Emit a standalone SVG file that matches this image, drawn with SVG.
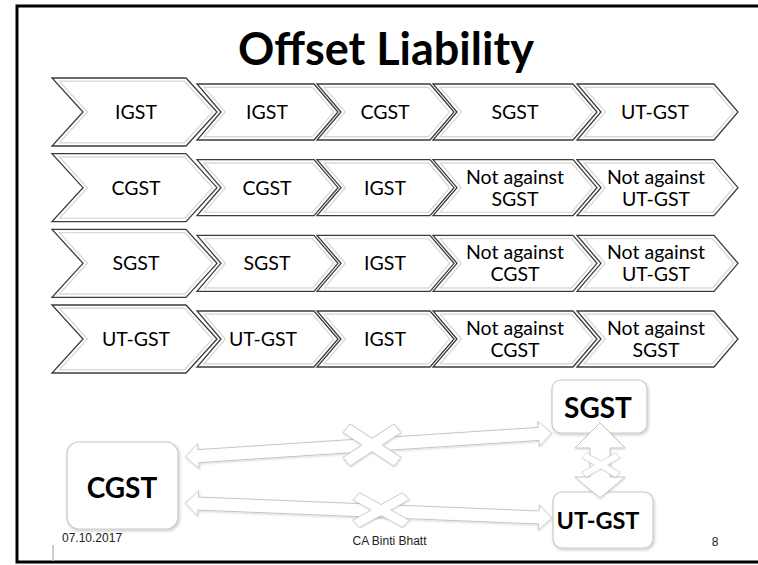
<svg xmlns="http://www.w3.org/2000/svg" xmlns:xlink="http://www.w3.org/1999/xlink" width="758" height="565" viewBox="0 0 758 565">
<style>
.frame{stroke:#000;stroke-width:3;fill:none}
.fw{fill:#fff;stroke:none}
.in1{fill:none;stroke:#dadada;stroke-width:8}
.in2{fill:none;stroke:#fff;stroke-width:5.2}
.ol{fill:none;stroke:#3c3c3c;stroke-width:1.3;stroke-linejoin:miter}
.ct{font-family:Lato,"Noto Sans",sans-serif;font-size:19.5px;fill:#000;text-anchor:middle}
.title{font-family:Lato,"Noto Sans",sans-serif;font-weight:bold;font-size:45px;fill:#000;text-anchor:middle}
.box{fill:#fff;stroke:#c9c9c9;stroke-width:1.2;filter:url(#sh)}
.bt{font-family:Lato,"Noto Sans",sans-serif;font-weight:bold;fill:#000;text-anchor:middle}
.arr{fill:#fff;stroke:#c4c4c4;stroke-width:1;stroke-linejoin:miter;filter:url(#sh2)}
.ft{font-family:"Liberation Sans",Arial,sans-serif;font-size:12px;fill:#222}
</style>
<defs>
<filter id="sh" x="-20%" y="-20%" width="140%" height="140%">
<feDropShadow dx="1" dy="1.5" stdDeviation="1.5" flood-color="#000" flood-opacity="0.22"/>
</filter>
<filter id="sh2" x="-20%" y="-40%" width="140%" height="180%">
<feDropShadow dx="0.5" dy="1" stdDeviation="1" flood-color="#000" flood-opacity="0.16"/>
</filter>
<path id="p1" d="M52,78 L186,78 L217,112 L186,146 L52,146 L83,112 Z"/>
<path id="p2" d="M197,84 L314,84 L338,112 L314,140 L197,140 L221,112 Z"/>
<path id="p3" d="M317,84 L430,84 L454,112 L430,140 L317,140 L341,112 Z"/>
<path id="p4" d="M433,84 L573,84 L597,112 L573,140 L433,140 L457,112 Z"/>
<path id="p5" d="M577,84 L714,84 L738,112 L714,140 L577,140 L601,112 Z"/>
<clipPath id="cp1"><use xlink:href="#p1"/></clipPath>
<clipPath id="cp2"><use xlink:href="#p2"/></clipPath>
<clipPath id="cp3"><use xlink:href="#p3"/></clipPath>
<clipPath id="cp4"><use xlink:href="#p4"/></clipPath>
<clipPath id="cp5"><use xlink:href="#p5"/></clipPath>
<g id="s1"><use xlink:href="#p1" class="fw"/><use xlink:href="#p1" class="in1" clip-path="url(#cp1)"/><use xlink:href="#p1" class="in2" clip-path="url(#cp1)"/><use xlink:href="#p1" class="ol"/></g>
<g id="s2"><use xlink:href="#p2" class="fw"/><use xlink:href="#p2" class="in1" clip-path="url(#cp2)"/><use xlink:href="#p2" class="in2" clip-path="url(#cp2)"/><use xlink:href="#p2" class="ol"/></g>
<g id="s3"><use xlink:href="#p3" class="fw"/><use xlink:href="#p3" class="in1" clip-path="url(#cp3)"/><use xlink:href="#p3" class="in2" clip-path="url(#cp3)"/><use xlink:href="#p3" class="ol"/></g>
<g id="s4"><use xlink:href="#p4" class="fw"/><use xlink:href="#p4" class="in1" clip-path="url(#cp4)"/><use xlink:href="#p4" class="in2" clip-path="url(#cp4)"/><use xlink:href="#p4" class="ol"/></g>
<g id="s5"><use xlink:href="#p5" class="fw"/><use xlink:href="#p5" class="in1" clip-path="url(#cp5)"/><use xlink:href="#p5" class="in2" clip-path="url(#cp5)"/><use xlink:href="#p5" class="ol"/></g>
<polygon id="harr" points="-183.5,0 -170.5,-12.5 -170.5,-6.5 170.5,-6.5 170.5,-12.5 183.5,0 170.5,12.5 170.5,6.5 -170.5,6.5 -170.5,12.5"/>
<polygon id="xm" points="22.56,-23.47 29.54,-13.71 10.33,0 29.54,13.71 22.56,23.47 0,7.37 -22.56,23.47 -29.54,13.71 -10.33,0 -29.54,-13.71 -22.56,-23.47 0,-7.37"/>
</defs>
<rect width="758" height="565" fill="#fff"/>
<g id="frame">
<path class="frame" d="M758,6 H17 V562 H758"/>
<line x1="53" y1="545" x2="53" y2="561" stroke="#bdbdbd" stroke-width="1.5"/>
</g>
<g id="title"><text class="title" x="386" y="65">Offset Liability</text></g>

<g id="row1">
<g id="r1c1"><use xlink:href="#s1"/><text class="ct" x="136" y="119">IGST</text></g>
<g id="r1c2"><use xlink:href="#s2"/><text class="ct" x="267" y="119">IGST</text></g>
<g id="r1c3"><use xlink:href="#s3"/><text class="ct" x="385" y="119">CGST</text></g>
<g id="r1c4"><use xlink:href="#s4"/><text class="ct" x="515" y="119">SGST</text></g>
<g id="r1c5"><use xlink:href="#s5"/><text class="ct" x="655" y="119">UT-GST</text></g>
</g>
<g id="row2">
<g id="r2c1"><use xlink:href="#s1" y="75.67"/><text class="ct" x="136" y="194.7">CGST</text></g>
<g id="r2c2"><use xlink:href="#s2" y="75.67"/><text class="ct" x="267" y="194.7">CGST</text></g>
<g id="r2c3"><use xlink:href="#s3" y="75.67"/><text class="ct" x="385" y="194.7">IGST</text></g>
<g id="r2c4"><use xlink:href="#s4" y="75.67"/><text class="ct" x="515" y="183.5">Not against</text><text class="ct" x="515" y="205.5">SGST</text></g>
<g id="r2c5"><use xlink:href="#s5" y="75.67"/><text class="ct" x="656" y="183.5">Not against</text><text class="ct" x="656" y="205.5">UT-GST</text></g>
</g>
<g id="row3">
<g id="r3c1"><use xlink:href="#s1" y="151.33"/><text class="ct" x="136" y="270.3">SGST</text></g>
<g id="r3c2"><use xlink:href="#s2" y="151.33"/><text class="ct" x="267" y="270.3">SGST</text></g>
<g id="r3c3"><use xlink:href="#s3" y="151.33"/><text class="ct" x="385" y="270.3">IGST</text></g>
<g id="r3c4"><use xlink:href="#s4" y="151.33"/><text class="ct" x="515" y="259">Not against</text><text class="ct" x="515" y="281">CGST</text></g>
<g id="r3c5"><use xlink:href="#s5" y="151.33"/><text class="ct" x="656" y="259">Not against</text><text class="ct" x="656" y="281">UT-GST</text></g>
</g>
<g id="row4">
<g id="r4c1"><use xlink:href="#s1" y="227"/><text class="ct" x="136" y="346">UT-GST</text></g>
<g id="r4c2"><use xlink:href="#s2" y="227"/><text class="ct" x="263" y="346">UT-GST</text></g>
<g id="r4c3"><use xlink:href="#s3" y="227"/><text class="ct" x="385" y="346">IGST</text></g>
<g id="r4c4"><use xlink:href="#s4" y="227"/><text class="ct" x="515" y="334.7">Not against</text><text class="ct" x="515" y="356.7">CGST</text></g>
<g id="r4c5"><use xlink:href="#s5" y="227"/><text class="ct" x="656" y="334.7">Not against</text><text class="ct" x="656" y="356.7">SGST</text></g>
</g>

<g id="node-cgst"><rect class="box" x="67" y="442" width="111" height="87" rx="12"/><text class="bt" x="122" y="498" font-size="28">CGST</text></g>
<g id="node-sgst"><rect class="box" x="552" y="380" width="95" height="53" rx="9"/><text class="bt" x="598" y="418" font-size="28">SGST</text></g>
<g id="node-utgst"><rect class="box" x="553" y="492" width="100" height="56" rx="9"/><text class="bt" x="598" y="529" font-size="23.5">UT-GST</text></g>

<g id="connectors">
<use xlink:href="#harr" class="arr" transform="translate(368.5,445) rotate(-3.74)"/>
<use xlink:href="#harr" class="arr" transform="translate(368.5,510.5) rotate(2.34)"/>
<polygon class="arr" points="600,423 625,448 610,448 610,477 625,477 600,498 575,477 590,477 590,448 575,448"/>
<use xlink:href="#xm" class="arr" transform="translate(372,445) scale(0.98,0.9)"/>
<use xlink:href="#xm" class="arr" transform="translate(381,510) scale(0.95,0.74)"/>
<use xlink:href="#xm" class="arr" transform="translate(601,465) scale(0.65,0.52)"/>
</g>

<g id="footer">
<text class="ft" x="62" y="541.5">07.10.2017</text>
<text class="ft" x="389.5" y="545" text-anchor="middle">CA Binti Bhatt</text>
<text class="ft" x="715" y="546" text-anchor="middle">8</text>
</g>
</svg>
